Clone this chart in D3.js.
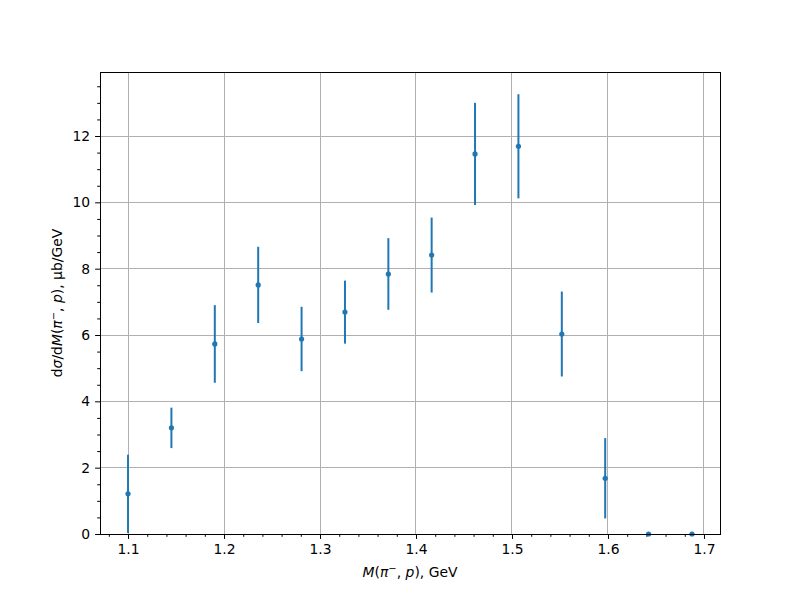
<!DOCTYPE html>
<html>
<head>
<meta charset="utf-8">
<script src="https://cdn.jsdelivr.net/npm/d3@7"></script>
<style>
  body { margin: 0; background: #fff; }
  text { font-family: "DejaVu Sans", sans-serif; }
</style>
</head>
<body>
<svg width="800" height="600"></svg>
<script>
// invariant mass bins (GeV) and cross section values
const massValues = [1.1, 1.1452, 1.1904, 1.2356, 1.2808, 1.3260, 1.3712,
                    1.4163, 1.4615, 1.5067, 1.5519, 1.5971, 1.6423, 1.6875];
const sigmaValues = [1.21, 3.20, 5.73, 7.51, 5.88, 6.69, 7.84,
                     8.41, 11.46, 11.69, 6.03, 1.68, 0.0, 0.0];
const sigmaErrors = [1.18, 0.61, 1.17, 1.15, 0.97, 0.95, 1.08,
                     1.13, 1.54, 1.57, 1.28, 1.21, 0.0, 0.0];
const xTicks = [1.1, 1.2, 1.3, 1.4, 1.5, 1.6, 1.7];
const yTicks = [0, 2, 4, 6, 8, 10, 12];

const data = massValues.map((m, i) => ({ x: m, y: sigmaValues[i], err: sigmaErrors[i] }));

const svg = d3.select("svg");
const margin = { top: 72, right: 80, bottom: 66, left: 100 };
const width = 800 - margin.left - margin.right;
const height = 600 - margin.top - margin.bottom;
const color = "#1f77b4";

const g = svg.append("g")
    .attr("transform", `translate(${margin.left},${margin.top})`);

const x = d3.scaleLinear()
    .domain([1.0708, 1.7167])
    .range([0, width]);

const y = d3.scaleLinear()
    .domain([0, 13.93])
    .range([height, 0]);

// grid lines
g.append("g")
    .attr("shape-rendering", "crispEdges")
    .selectAll("line")
    .data(xTicks)
    .join("line")
    .attr("x1", d => x(d)).attr("x2", d => x(d))
    .attr("y1", 0).attr("y2", height)
    .attr("stroke", "#b0b0b0").attr("stroke-width", 1);

g.append("g")
    .attr("shape-rendering", "crispEdges")
    .selectAll("line")
    .data(yTicks)
    .join("line")
    .attr("x1", 0).attr("x2", width)
    .attr("y1", d => y(d)).attr("y2", d => y(d))
    .attr("stroke", "#b0b0b0").attr("stroke-width", 1);

// minor ticks
const xMinor = d3.range(1.08, 1.72, 0.02).filter(v => !xTicks.some(t => Math.abs(t - v) < 1e-6));
const yMinor = d3.range(0.5, 13.9, 0.5).filter(v => !yTicks.some(t => Math.abs(t - v) < 1e-6));

g.append("g")
    .attr("transform", `translate(0,${height})`)
    .call(d3.axisBottom(x).tickValues(xMinor).tickSize(2.8).tickFormat(""))
    .call(a => a.select(".domain").remove());

g.append("g")
    .call(d3.axisLeft(y).tickValues(yMinor).tickSize(2.8).tickFormat(""))
    .call(a => a.select(".domain").remove());

// major axes
const xAxis = g.append("g")
    .attr("transform", `translate(0,${height})`)
    .call(d3.axisBottom(x).tickValues(xTicks).tickSize(4.9).tickPadding(4.9)
        .tickFormat(d3.format(".1f")));
xAxis.select(".domain").remove();
xAxis.selectAll("text").attr("font-size", 13.9).attr("fill", "#000");

const yAxis = g.append("g")
    .call(d3.axisLeft(y).tickValues(yTicks).tickSize(4.9).tickPadding(4.9)
        .tickFormat(d3.format("d")));
yAxis.select(".domain").remove();
yAxis.selectAll("text").attr("font-size", 13.9).attr("fill", "#000");

// error bars
g.append("g")
    .selectAll("line")
    .data(data.filter(d => d.err > 0))
    .join("line")
    .attr("x1", d => x(d.x)).attr("x2", d => x(d.x))
    .attr("y1", d => y(Math.max(0, d.y - d.err)))
    .attr("y2", d => y(d.y + d.err))
    .attr("stroke", color)
    .attr("stroke-width", 2);

// points
g.append("g")
    .selectAll("circle")
    .data(data)
    .join("circle")
    .attr("cx", d => x(d.x))
    .attr("cy", d => y(d.y))
    .attr("r", 2.6)
    .attr("fill", color);

// axes frame
g.append("rect")
    .attr("shape-rendering", "crispEdges")
    .attr("width", width).attr("height", height)
    .attr("fill", "none").attr("stroke", "#000").attr("stroke-width", 1);

// x label
const xl = svg.append("text")
    .attr("x", margin.left + width / 2)
    .attr("y", 577)
    .attr("text-anchor", "middle")
    .attr("font-size", 13.9);
xl.append("tspan").attr("font-style", "italic").text("M");
xl.append("tspan").text("(");
xl.append("tspan").attr("font-style", "italic").text("π");
xl.append("tspan").attr("font-size", 10).attr("dy", -5).text("−");
xl.append("tspan").attr("dy", 5).text(", ");
xl.append("tspan").attr("font-style", "italic").text("p");
xl.append("tspan").text("), GeV");

// y label
const yl = svg.append("text")
    .attr("transform", `translate(62,${margin.top + height / 2}) rotate(-90)`)
    .attr("text-anchor", "middle")
    .attr("font-size", 13.9);
yl.append("tspan").text("d");
yl.append("tspan").attr("font-style", "italic").text("σ");
yl.append("tspan").text("/d");
yl.append("tspan").attr("font-style", "italic").text("M");
yl.append("tspan").text("(");
yl.append("tspan").attr("font-style", "italic").text("π");
yl.append("tspan").attr("font-size", 10).attr("dy", -5).text("−");
yl.append("tspan").attr("dy", 5).text(", ");
yl.append("tspan").attr("font-style", "italic").text("p");
yl.append("tspan").text("), μb/GeV");
</script>
</body>
</html>
